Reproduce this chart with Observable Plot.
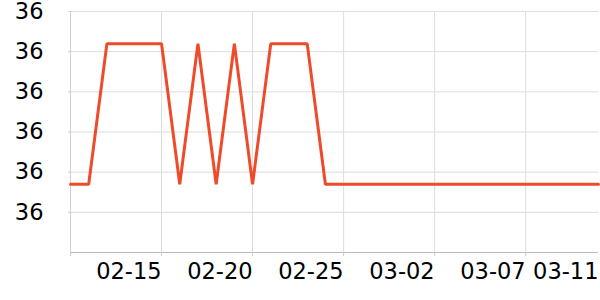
<!DOCTYPE html>
<html>
<head>
<meta charset="utf-8">
<script src="https://cdn.jsdelivr.net/npm/d3@7"></script>
<script src="https://cdn.jsdelivr.net/npm/@observablehq/plot@0.6"></script>
<style>
  html, body { margin: 0; padding: 0; background: #fff; }
  svg { display: block; }
</style>
</head>
<body>
<div id="chart"></div>
<script>
const dates = ["2023-02-10","2023-02-11","2023-02-12","2023-02-13","2023-02-14","2023-02-15","2023-02-16","2023-02-17","2023-02-18","2023-02-19","2023-02-20","2023-02-21","2023-02-22","2023-02-23","2023-02-24","2023-02-25","2023-02-26","2023-02-27","2023-02-28","2023-03-01","2023-03-02","2023-03-03","2023-03-04","2023-03-05","2023-03-06","2023-03-07","2023-03-08","2023-03-09","2023-03-10","2023-03-11"];
const temps = [36.17,36.17,36.52,36.52,36.52,36.52,36.17,36.52,36.17,36.52,36.17,36.52,36.52,36.52,36.17,36.17,36.17,36.17,36.17,36.17,36.17,36.17,36.17,36.17,36.17,36.17,36.17,36.17,36.17,36.17];
const xTickLabels = ["2023-02-15","2023-02-20","2023-02-25","2023-03-02","2023-03-07","2023-03-11"];
const xGridDates = ["2023-02-15","2023-02-20","2023-02-25","2023-03-02","2023-03-07"];
const yTicks = [36.1,36.2,36.3,36.4,36.5,36.6];
const yDomain = [36.0, 36.6];

const data = dates.map((d, i) => ({date: new Date(d), value: temps[i]}));
const xTicks = xTickLabels.map(d => new Date(d));
const xGrid = xGridDates.map(d => new Date(d));
const font = "DejaVu Sans";

const chart = Plot.plot({
  width: 600,
  height: 300,
  marginLeft: 70,
  marginRight: 2,
  marginTop: 11,
  marginBottom: 48,
  style: {fontFamily: font, background: "#fff"},
  x: {type: "utc", domain: [new Date(dates[0]), new Date(dates[dates.length - 1])]},
  y: {domain: yDomain},
  marks: [
    Plot.gridY(yTicks, {stroke: "#dddddd", strokeOpacity: 1, strokeWidth: 1}),
    Plot.gridX(xGrid, {stroke: "#dddddd", strokeOpacity: 1, strokeWidth: 1}),
    Plot.ruleX([new Date(dates[0])], {stroke: "#d0d0d0", strokeWidth: 1}),
    Plot.ruleY([yDomain[0]], {stroke: "#bbbbbb", strokeWidth: 1}),
    Plot.axisY(yTicks, {
      tickSize: 2, tickPadding: 25, stroke: "#cccccc",
      tickFormat: d => String(Math.floor(d)), fontSize: 22.5, fill: "#000", label: null
    }),
    Plot.axisX([new Date(dates[0]), ...xGrid], {
      tickSize: 4, stroke: "#cccccc", tickFormat: () => "", label: null
    }),
    Plot.axisX(xTicks, {
      tickSize: 0, tickPadding: 11, textAnchor: "end",
      tickFormat: d3.utcFormat("%m-%d"), fontSize: 22.5, fill: "#000", label: null
    }),
    Plot.line(data, {x: "date", y: "value", stroke: "#ee4b2b", strokeWidth: 3, strokeLinejoin: "miter", clip: false})
  ]
});
document.getElementById("chart").appendChild(chart);
</script>
</body>
</html>
